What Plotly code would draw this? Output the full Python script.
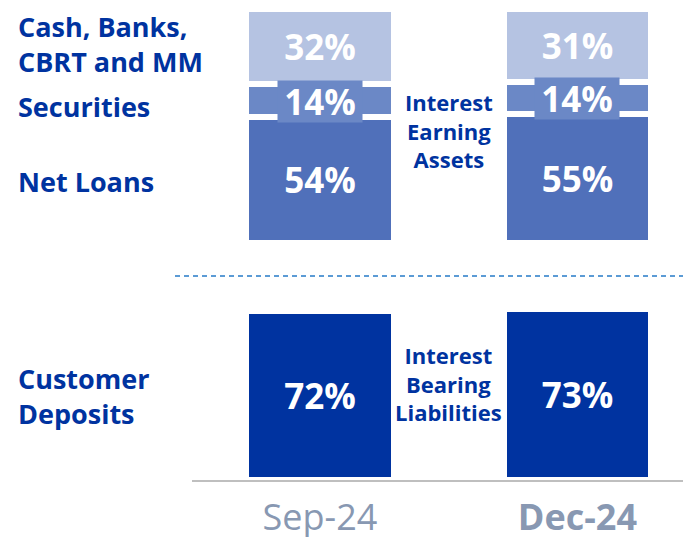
import plotly.graph_objects as go

periods = ["Sep-24", "Dec-24"]
period_labels = ["Sep-24", "<b>Dec-24</b>"]
net_loans = [54, 55]
securities = [14, 14]
cash_banks = [32, 31]
customer_deposits = [72, 73]

FONT = "Open Sans"
NAVY = "#0033a0"
C_LOANS = "#5070ba"
C_SEC = "#6b88c6"
C_CASH = "#b5c3e2"
C_DEP = "#0033a0"
PCT = dict(color="white", size=35, family=FONT)

fig = go.Figure()

def pct(v):
    return [f"<b>{x}%</b>" for x in v]

top_w = 0.574
fig.add_trace(go.Bar(x=periods, y=net_loans, name="Net Loans", marker=dict(color=C_LOANS, line=dict(color="white", width=6)),
                     width=top_w, text=pct(net_loans), textposition="inside", insidetextanchor="middle",
                     textfont=PCT, xaxis="x", yaxis="y"))
fig.add_trace(go.Bar(x=periods, y=securities, name="Securities", marker=dict(color=C_SEC, line=dict(color="white", width=6)),
                     width=top_w, xaxis="x", yaxis="y"))
fig.add_trace(go.Bar(x=periods, y=cash_banks, name="Cash", marker=dict(color=C_CASH, line=dict(color="white", width=6)),
                     width=top_w, text=pct(cash_banks), textposition="inside", insidetextanchor="middle",
                     textfont=PCT, xaxis="x", yaxis="y"))
fig.add_trace(go.Bar(x=periods, y=customer_deposits, name="Deposits", marker=dict(color=C_DEP, line=dict(width=0)),
                     width=0.551, text=pct(customer_deposits), textposition="inside", insidetextanchor="middle",
                     textfont=PCT, xaxis="x", yaxis="y2"))

annotations = []
for p, l, s in zip(periods, net_loans, securities):
    annotations.append(dict(x=p, y=l + s / 2, xref="x", yref="y", text=f"<b>{s}%</b>", showarrow=False,
                            font=PCT, bgcolor=C_SEC, width=80, height=37, borderpad=2, yshift=-1))

lx = (16 - 192) / 499
row_font = dict(color=NAVY, size=27, family=FONT)
annotations += [
    dict(x=lx, xref="paper", y=net_loans[0] + securities[0] + cash_banks[0] / 2, yref="y", yshift=2,
         text="<b>Cash, Banks,<br>CBRT and MM</b>", align="left", xanchor="left", showarrow=False, font=row_font),
    dict(x=lx, xref="paper", y=net_loans[0] + securities[0] / 2, yref="y", yshift=-6,
         text="<b>Securities</b>", align="left", xanchor="left", showarrow=False, font=row_font),
    dict(x=lx, xref="paper", y=net_loans[0] / 2, yref="y", yshift=-2,
         text="<b>Net Loans</b>", align="left", xanchor="left", showarrow=False, font=row_font),
    dict(x=lx, xref="paper", y=customer_deposits[0] / 2, yref="y2", yshift=-1,
         text="<b>Customer<br>Deposits</b>", align="left", xanchor="left", showarrow=False, font=row_font),
]
mid_font = dict(color=NAVY, size=22, family=FONT)
annotations += [
    dict(x=0.5, xref="x", y=(473 - 123) / 473, yref="paper", yanchor="middle",
         text="<b>Interest<br>Earning<br>Assets</b>", showarrow=False, font=mid_font, align="center"),
    dict(x=0.5, xref="x", y=(473 - 375) / 473, yref="paper", yanchor="middle",
         text="<b>Interest<br>Bearing<br>Liabilities</b>", showarrow=False, font=mid_font, align="center"),
]

shapes = [
    dict(type="line", xref="paper", yref="paper", x0=(175 - 192) / 499, x1=1,
         y0=(473 - 268) / 473, y1=(473 - 268) / 473, line=dict(color="#5b9bd5", width=2, dash="5px,4px")),
    dict(type="line", xref="paper", yref="paper", x0=0, x1=1, y0=0, y1=0,
         line=dict(color="#bfbfbf", width=2)),
]

fig.update_layout(
    width=683, height=529, margin=dict(l=184, r=0, t=0, b=56, autoexpand=False),
    paper_bgcolor="white", plot_bgcolor="white", showlegend=False, barmode="stack",
    font=dict(family=FONT),
    xaxis=dict(type="category", categoryorder="array", categoryarray=periods, range=[-0.497, 1.441],
               anchor="free", position=0, showline=False, automargin=False,
               tickvals=periods, ticktext=period_labels, ticks="", ticklabelstandoff=12,
               tickfont=dict(size=36, color="#8898b2", family=FONT), showgrid=False, zeroline=False),
    yaxis=dict(domain=[0.5032, 0.9979], range=[0, 100], visible=False, showgrid=False),
    yaxis2=dict(domain=[0.00846, 0.4871], range=[0, 100], visible=False, showgrid=False),
    annotations=annotations, shapes=shapes,
)

fig.write_html("out.html")
